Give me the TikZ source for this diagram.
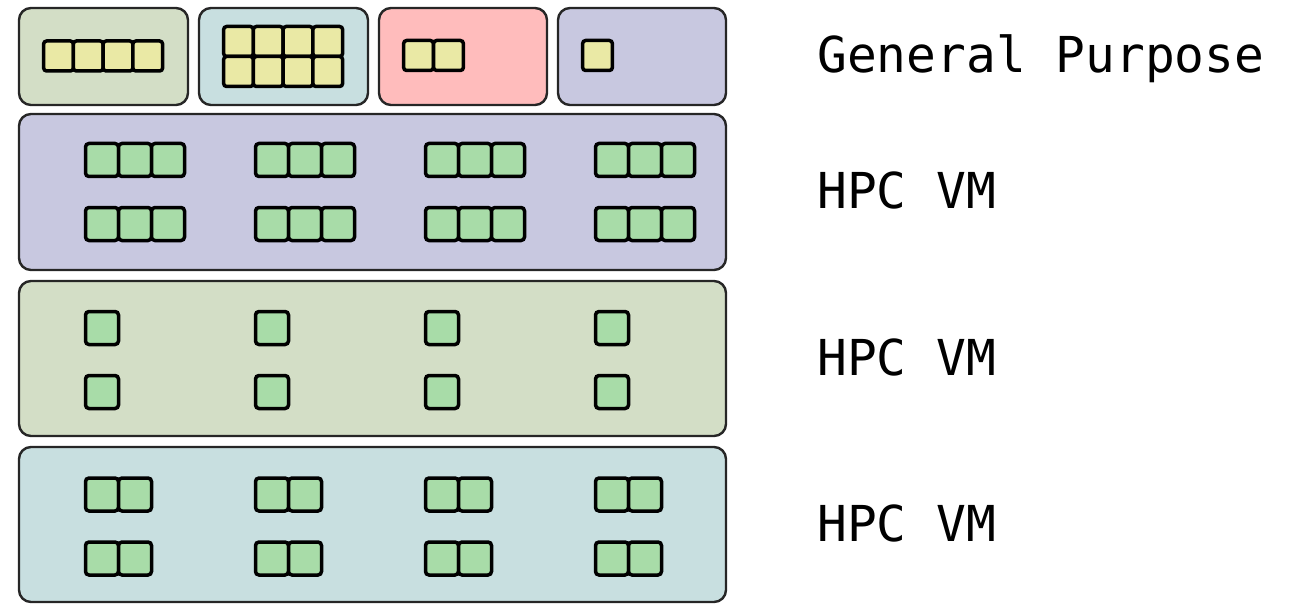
\documentclass[tikz,border=0pt]{standalone}
\usepackage{fontspec}
\newfontfamily\lblfont{DejaVu Sans Mono}
\definecolor{cgreen}{HTML}{D3DEC6}
\definecolor{cteal}{HTML}{C8DFE0}
\definecolor{cpink}{HTML}{FFBCBC}
\definecolor{clav}{HTML}{C8C8E0}
\definecolor{cyel}{HTML}{EAE9A5}
\definecolor{cgc}{HTML}{A8DCA8}
\begin{document}
\begin{tikzpicture}[x=1pt,y=-1pt,
  box/.style={draw=black!85, line width=2.4pt, rounded corners=12pt, inner sep=0pt, outer sep=0pt},
  ycell/.style={draw=black, line width=3.5pt, rounded corners=3pt, fill=cyel, minimum width=29.75pt, minimum height=30pt, inner sep=0pt},
  gcell/.style={draw=black, line width=3.5pt, rounded corners=3.5pt, fill=cgc, minimum width=33pt, minimum height=33pt, inner sep=0pt},
  lbl/.style={anchor=base west, inner sep=0pt, font=\lblfont\fontsize{49.5}{59}\selectfont}]
\useasboundingbox (0,0) rectangle (1289,604);
% general purpose boxes
\node[box, fill=cgreen, minimum width=169pt, minimum height=97pt] (gp1) at (103.5,56.5) {};
\node[box, fill=cteal, minimum width=169pt, minimum height=97pt] (gp2) at (283.5,56.5) {};
\node[box, fill=cpink, minimum width=168pt, minimum height=97pt] (gp3) at (463,56.5) {};
\node[box, fill=clav, minimum width=168pt, minimum height=97pt] (gp4) at (642,56.5) {};
% HPC boxes
\node[box, fill=clav, minimum width=707pt, minimum height=156pt] (hpc1) at (372.5,192) {};
\node[box, fill=cgreen, minimum width=707pt, minimum height=155pt] (hpc2) at (372.5,358.5) {};
\node[box, fill=cteal, minimum width=707pt, minimum height=155pt] (hpc3) at (372.5,524.5) {};
% yellow cells
\foreach \i in {0,...,3} \node[ycell] (a\i) at (58.5+29.75*\i,56) {};
\foreach \r/\yy in {0/41.5,1/71.5}
  \foreach \i in {0,...,3} \node[ycell] (b\r\i) at (238.5+29.75*\i,\yy) {};
\foreach \i in {0,1} \node[ycell] (c\i) at (418.5+30*\i,55.5) {};
\node[ycell] (d0) at (597.5,55.5) {};
% green cells
\foreach \g in {0,...,3} {
  \foreach \r/\yy in {0/160,1/224}
    \foreach \i in {0,1,2} \node[gcell] (h1-\g-\r-\i) at (102+170*\g+33*\i,\yy) {};
  \foreach \r/\yy in {0/328,1/392}
    \node[gcell] (h2-\g-\r) at (102+170*\g,\yy) {};
  \foreach \r/\yy in {0/494.5,1/558.5}
    \foreach \i in {0,1} \node[gcell] (h3-\g-\r-\i) at (102+170*\g+33*\i,\yy) {};
}
% labels
\node[lbl] (l0) at (817,73) {General Purpose};
\node[lbl] (l1) at (817,208) {HPC VM};
\node[lbl] (l2) at (817,375) {HPC VM};
\node[lbl] (l3) at (817,541) {HPC VM};
\end{tikzpicture}
\end{document}
